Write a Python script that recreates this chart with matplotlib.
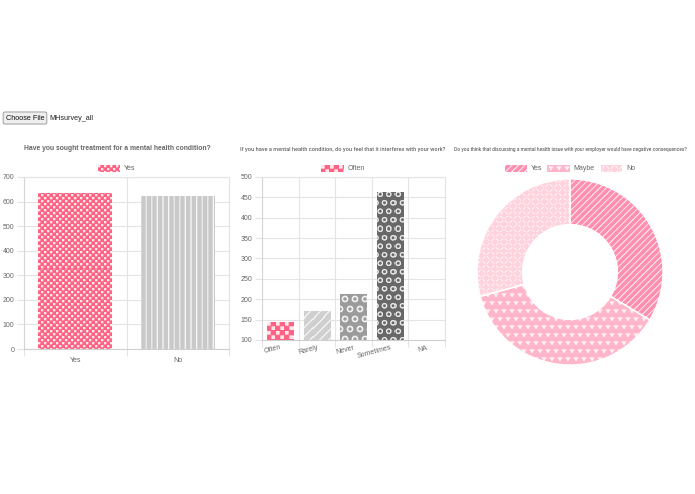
import numpy as np
import matplotlib
matplotlib.use('Agg')
import matplotlib.pyplot as plt
from matplotlib.colors import to_rgb
from matplotlib.patches import Wedge
from matplotlib.transforms import Bbox
from matplotlib import font_manager

# ---------------- data ----------------
q1_title = "Have you sought treatment for a mental health condition?"
q1_cats = ["Yes", "No"]
q1_vals = [635, 621]
q1_legend = "Yes"
q1_yticks = [0, 100, 200, 300, 400, 500, 600, 700]

q2_title = "If you have a mental health condition, do you feel that it interferes with your work?"
q2_cats = ["Often", "Rarely", "Never", "Sometimes", "NA"]
q2_vals = [143, 172, 212, 464, 0]
q2_legend = "Often"
q2_yticks = [100, 150, 200, 250, 300, 350, 400, 450, 500]

q3_title = "Do you think that discussing a mental health issue with your employer would have negative consequences?"
q3_cats = ["Yes", "Maybe", "No"]
q3_vals = [423, 468, 368]

# ---------------- style ----------------
W, H, DPI = 695, 494, 100
TXT = '#666666'
GRID = '#e4e4e4'
PINK = '#ff6384'

names = {f.name for f in font_manager.fontManager.ttflist}
if 'Liberation Sans Narrow' in names:
    NARROW = ['Liberation Sans Narrow', 'Liberation Sans']
elif 'Roboto' in names:
    NARROW = ['Roboto', 'Liberation Sans']
else:
    NARROW = ['Liberation Sans']
plt.rcParams['font.family'] = ['Liberation Sans', 'DejaVu Sans']

fig = plt.figure(figsize=(W / DPI, H / DPI), dpi=DPI)
fig.patch.set_facecolor('white')


def fx(px):
    return px / W


def fy(py):
    return 1 - py / H


def axes_px(l, t, r, b):
    return fig.add_axes([fx(l), fy(b), (r - l) / W, (b - t) / H])


def mask(kind, xx, yy, p):
    if kind == 'checker':
        c = p / 2
        cx = np.floor(xx / c)
        cy = np.floor(yy / c)
        inner = ((xx % c) < c * 0.78) & ((yy % c) < c * 0.78)
        return ((cx + cy) % 2 == 0) & inner
    if kind == 'vline':
        return (xx % p) < 1.2
    if kind == 'diag':
        return ((xx + yy) % p) < 1.4
    if kind == 'ring':
        row = np.floor(yy / p)
        xs = xx + (row % 2) * p / 2
        u = (xs % p) - p / 2
        v = (yy % p) - p / 2
        r = np.hypot(u, v)
        return (r < p * 0.34) & (r > p * 0.17)
    if kind == 'triangle':
        row = np.floor(yy / p)
        xs = xx + (row % 2) * p / 2
        u = (xs % p) / p - 0.5
        v = (yy % p) / p
        return (v > 0.15) & (v < 0.7) & (np.abs(u) < 0.36 * (0.7 - v) / 0.55)
    if kind == 'weave':
        c = p / 2
        qx = np.floor(xx / c)
        qy = np.floor(yy / c)
        u = xx % c
        v = yy % c
        core = (u > c * 0.15) & (u < c * 0.85) & (v > c * 0.15) & (v < c * 0.85)
        a = np.abs(u + v - c) < 0.8
        b = np.abs(u - v) < 0.8
        return core & np.where((qx + qy) % 2 == 0, a, b)
    return np.zeros_like(xx, dtype=bool)


def texture(kind, w, h, p, bg, fg='white', alpha=0.85, ss=3):
    yy, xx = np.mgrid[0:h * ss, 0:w * ss].astype(float)
    xx = (xx + 0.5) / ss
    yy = (yy + 0.5) / ss
    m = mask(kind, xx, yy, p).astype(float)
    m = m.reshape(h, ss, w, ss).mean(axis=(1, 3))
    a = (m * alpha)[..., None]
    return np.array(to_rgb(bg)) * (1 - a) + np.array(to_rgb(fg)) * a


def texture_patch(ax, patch, kind, p, bg, alpha=0.85):
    bb = Bbox.intersection(patch.get_window_extent(), ax.bbox)
    if bb is None or bb.width < 1 or bb.height < 1:
        return
    x0, y0 = np.floor(bb.x0), np.floor(bb.y0)
    w = int(np.ceil(bb.x1) - x0)
    h = int(np.ceil(bb.y1) - y0)
    img = texture(kind, w, h, p, bg, alpha=alpha)
    inv = ax.transData.inverted()
    d0 = inv.transform((x0, y0))
    d1 = inv.transform((x0 + w, y0 + h))
    im = ax.imshow(img, extent=(d0[0], d1[0], d0[1], d1[1]), interpolation='nearest',
                   aspect='auto', zorder=patch.get_zorder() + 0.1)
    im.set_clip_path(patch)


def swatch(l, t, w, h, kind, p, bg):
    img = texture(kind, w, h, p, bg)
    fig.figimage(img, xo=l, yo=H - (t + h), origin='upper', zorder=3)


def fit_text(xc, y, s, target_w, size, **kw):
    t = fig.text(fx(xc), fy(y), s, ha='center', va='center', fontsize=size, color=TXT, **kw)
    r = fig.canvas.get_renderer()
    w = t.get_window_extent(r).width
    t.set_fontsize(size * target_w / w)
    return t


def bar_chart(ax, cats, vals, ylim, yticks, styles):
    x = np.arange(len(cats))
    bars = ax.bar(x, vals, width=0.72, color=[s[2] for s in styles], linewidth=0, zorder=2)
    ax.set_autoscale_on(False)
    ax.set_xlim(-0.5, len(cats) - 0.5)
    ax.set_ylim(*ylim)
    ax.set_yticks(yticks)
    ax.set_xticks(x)
    ax.set_xticklabels(cats)
    ax.set_xticks(np.arange(len(cats) + 1) - 0.5, minor=True)
    ax.grid(True, axis='y', which='major', color=GRID, lw=0.8, zorder=0)
    ax.grid(True, axis='x', which='minor', color=GRID, lw=0.8, zorder=0)
    ax.tick_params(axis='y', length=5, width=0.8, color=GRID, labelsize=5, labelcolor=TXT, pad=2)
    ax.tick_params(axis='x', which='major', length=0, labelsize=5, labelcolor=TXT, pad=6)
    ax.tick_params(axis='x', which='minor', length=5, width=0.8, color=GRID)
    for sp in ax.spines.values():
        sp.set_color(GRID)
        sp.set_linewidth(0.8)
    ax.spines['bottom'].set_color('#cfcfcf')
    ax.spines['left'].set_color('#d6d6d6')
    for b, s in zip(bars, styles):
        texture_patch(ax, b, s[0], s[1], s[2])
    return bars


# ---------------- file chooser ----------------
fig.text(fx(25), fy(118), "Choose File", ha='center', va='center', fontsize=5.2, color='#111111',
         bbox=dict(boxstyle='round,pad=0.35,rounding_size=0.25', fc='#efefef', ec='#8f8f8f', lw=0.6))
fig.text(fx(49), fy(118), "MHsurvey_all", ha='left', va='center', fontsize=5.2, color='#222222')

# ---------------- chart 1 ----------------
ax1 = axes_px(24, 177, 229, 349)
styles1 = [('checker', 6, PINK), ('vline', 5.6, '#c9c9c9')]
bar_chart(ax1, q1_cats, q1_vals, (0, 700), q1_yticks, styles1)
fit_text(117, 149, q1_title, 186, 5.5, fontweight='bold')
swatch(98, 165, 22, 7, 'checker', 6, PINK)
fig.text(fx(124), fy(168.5), q1_legend, ha='left', va='center', fontsize=5, color=TXT)

# ---------------- chart 2 ----------------
ax2 = axes_px(262, 177, 445, 340)
styles2 = [('checker', 9, PINK), ('diag', 9, '#cfcfcf'), ('ring', 10, '#9b9b9b'),
           ('ring', 8.5, '#686868'), ('checker', 9, '#c9c9c9')]
bar_chart(ax2, q2_cats, q2_vals, (100, 500), q2_yticks, styles2)
ax2.tick_params(axis='x', which='major', pad=3)
for lab in ax2.get_xticklabels():
    lab.set_rotation(15)
    lab.set_ha('right')
    lab.set_va('top')
    lab.set_rotation_mode('anchor')
fit_text(343, 150, q2_title, 206, 5.0, fontweight='medium', family=NARROW)
swatch(321, 165, 23, 7, 'checker', 9, PINK)
fig.text(fx(348), fy(168.5), q2_legend, ha='left', va='center', fontsize=5, color=TXT)

# ---------------- chart 3 ----------------
ax3 = axes_px(477, 179, 663, 365)
cols3 = ['#ff8fb1', '#ffb5ca', '#ffd3de']
kinds3 = [('diag', 6.5), ('triangle', 8), ('weave', 9)]
wedges, _ = ax3.pie(q3_vals, colors=cols3, startangle=90, counterclock=False, radius=1,
                    wedgeprops=dict(width=0.49, linewidth=0))
ax3.set_autoscale_on(False)
ax3.set_xlim(-1, 1)
ax3.set_ylim(-1, 1)
ax3.set_aspect('auto')
for wdg, (k, p), c in zip(wedges, kinds3, cols3):
    texture_patch(ax3, wdg, k, p, c, alpha=0.8)
for wdg in wedges:
    ax3.add_patch(Wedge(wdg.center, wdg.r, wdg.theta1, wdg.theta2, width=wdg.width,
                        fill=False, edgecolor='white', lw=1.0, zorder=5))
fit_text(570.5, 149, q3_title, 233, 5.0, fontweight='medium', family=NARROW)
leg = [(505, 22, 531), (547, 23, 573), (601, 21, 626)]
for (sl, sw, tl), cat, (k, p), c in zip(leg, q3_cats, kinds3, cols3):
    swatch(sl, 165, sw, 7, k, p, c)
    fig.text(fx(tl), fy(168.5), cat, ha='left', va='center', fontsize=5, color=TXT)

fig.savefig('out.png', dpi=DPI, facecolor='white')
